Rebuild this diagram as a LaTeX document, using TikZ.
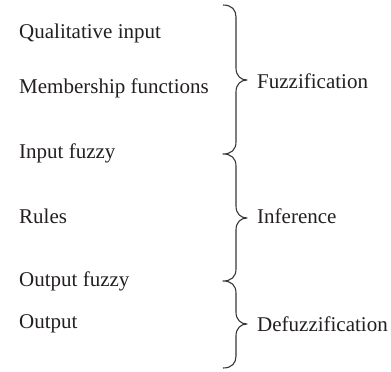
\documentclass[tikz,border=0pt]{standalone}
\usepackage{fontspec}
\setmainfont{Liberation Serif}
\definecolor{ink}{HTML}{231F20}
\begin{document}
\begin{tikzpicture}[x=1pt,y=-1pt,
  lbl/.style={anchor=west,inner sep=0pt,text=ink,font=\fontsize{21}{24}\selectfont},
  brace/.style={draw=ink!90,line width=1.1pt,line join=round}]
\useasboundingbox (0,0) rectangle (391,372);
\node[lbl] (q) at (19,33) {Qualitative input};
\node[lbl] (m) at (19,88) {Membership functions};
\node[lbl] (i) at (19,153) {Input fuzzy};
\node[lbl] (r) at (19,216) {Rules};
\node[lbl] (of) at (19,281) {Output fuzzy};
\node[lbl] (o) at (19,324) {Output};
\node[lbl] (fz) at (257,81) {Fuzzification};
\node[lbl] (inf) at (257,216) {Inference};
\node[lbl] (df) at (257,324) {Defuzzification};
\coordinate (top) at (223,5);
\coordinate (t1) at (247,80);
\coordinate (t2) at (223,154);
\coordinate (t3) at (247,218);
\coordinate (t4) at (223,281);
\coordinate (t5) at (247,324);
\coordinate (bot) at (223,368);
\draw[brace] (top) .. controls (232,5) and (236,10) .. (236,17)
  -- (236,68) .. controls (236,76) and (241,80) .. (t1)
  .. controls (241,80) and (236,84) .. (236,92)
  -- (236,142) .. controls (236,150) and (231,154) .. (t2)
  .. controls (231,154) and (236,158) .. (236,166)
  -- (236,206) .. controls (236,214) and (241,218) .. (t3)
  .. controls (241,218) and (236,222) .. (236,230)
  -- (236,269) .. controls (236,277) and (231,281) .. (t4)
  .. controls (231,281) and (236,285) .. (236,293)
  -- (236,312) .. controls (236,320) and (241,324) .. (t5)
  .. controls (241,324) and (236,328) .. (236,336)
  -- (236,356) .. controls (236,363) and (232,368) .. (bot);
\end{tikzpicture}
\end{document}
